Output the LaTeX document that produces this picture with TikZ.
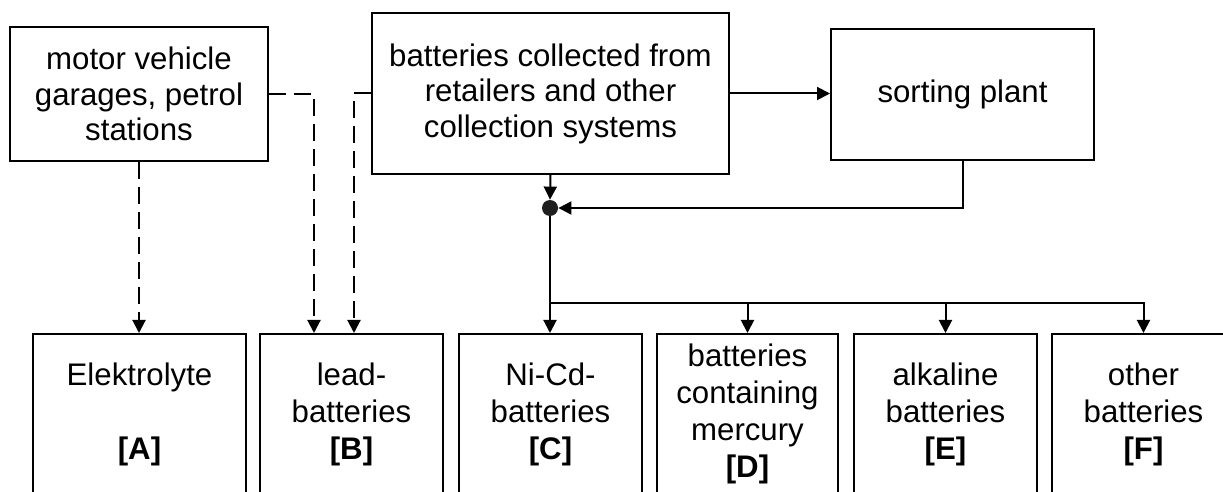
\documentclass[tikz,border=0pt]{standalone}
\usepackage{fontspec}
\setmainfont{Liberation Sans}
\usetikzlibrary{arrows.meta}
\tikzset{
  box/.style={draw, line width=1pt, align=center, inner sep=0pt,
    font=\fontsize{15.6}{17.75}\selectfont},
  bin/.style={box, minimum width=91.5pt, minimum height=80pt,
    font=\fontsize{15.6}{18.5}\selectfont},
  flow/.style={line width=1pt, -{Triangle[length=6.5pt,width=6.5pt]}},
  dashflow/.style={flow, dash pattern=on 8.5pt off 4pt},
}
\begin{document}
\begin{tikzpicture}[x=.5pt, y=-.5pt]
    \path[use as bounding box] (0,0) rectangle (1223,492);
    \clip (0,0) rectangle (1223,492);
    % sources
    \node[box, minimum width=129pt, minimum height=67pt] (garage) at (139,94)
      {motor vehicle\\garages, petrol\\stations};
    \node[box, minimum width=178.5pt, minimum height=80.5pt] (collect) at (550.5,93.5)
      {batteries collected from\\retailers and other\\collection systems};
    \node[box, minimum width=131.5pt, minimum height=65.5pt] (sort) at (962.5,94.5)
      {sorting plant};
    \node[circle, fill=black!88, inner sep=0pt, minimum size=8pt] (join) at (550,208) {};
    \coordinate (split) at (550,303);
    % bins
    \node[bin, minimum width=106.5pt] (elektro) at (139.5,414) {Elektrolyte\\[18.5pt]\textbf{[A]}};
    \node[bin] (lead) at (351.5,414) {lead-\\batteries\\\textbf{[B]}};
    \node[bin] (nicd) at (550.5,414) {Ni-Cd-\\batteries\\\textbf{[C]}};
    \node[bin, minimum width=90.5pt] (mercury) at (747.5,414) {batteries\\containing\\mercury\\\textbf{[D]}};
    \node[bin] (alkaline) at (945.5,414) {alkaline\\batteries\\\textbf{[E]}};
    \node[bin] (other) at (1143.5,414) {other\\batteries\\\textbf{[F]}};
    % flows
    \draw[flow] (collect.east) -- (collect.east -| sort.west);
    \draw[flow] (collect.south) -- (join.north);
    \draw[flow] (sort.south) |- (join.east);
    \draw[flow] (join) -- (join |- nicd.north);
    \foreach \b in {mercury,alkaline,other}
      \draw[flow] (split) -| (\b.north);
    \draw[dashflow] (garage.south) -- (garage.south |- elektro.north);
    \draw[dashflow] (garage.east) -| ([xshift=27.5pt]lead.north west);
    \draw[dashflow] (collect.west) -| ([xshift=47.5pt]lead.north west);
\end{tikzpicture}
\end{document}
